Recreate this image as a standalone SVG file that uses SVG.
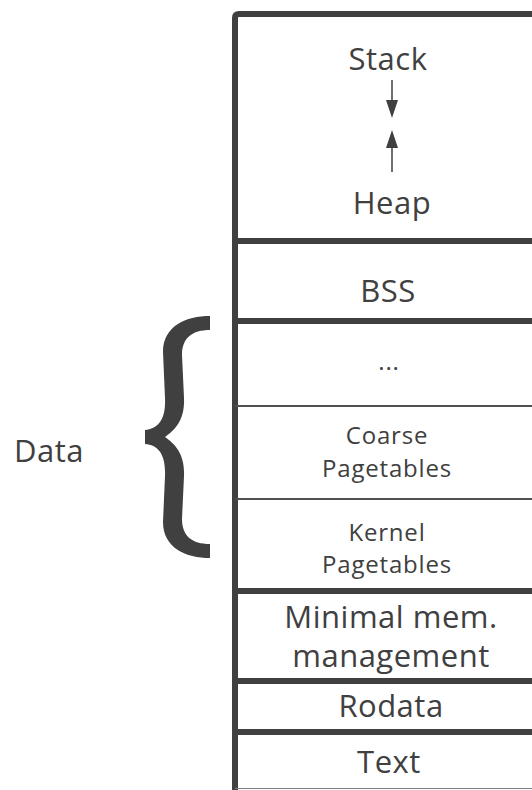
<svg xmlns="http://www.w3.org/2000/svg" width="532" height="790" viewBox="0 0 532 790">
<defs>
<style>
.t{font-family:"Open Sans","Noto Sans","DejaVu Sans",sans-serif;fill:#404040;text-anchor:middle}
.b{font-size:31px;letter-spacing:0.5px}
.s{font-size:24px;letter-spacing:0.8px}
.thick{stroke:#404040;stroke-width:6;fill:none}
.thin{stroke:#505050;stroke-width:2;fill:none}
</style>
</defs>
<rect width="532" height="790" fill="#ffffff"/>
<g id="frame">
<path class="thick" d="M235,792 L235,18 Q235,14 239,14 L540,14"/>
<line class="thick" x1="235" y1="241" x2="540" y2="241"/>
<line class="thick" x1="235" y1="321" x2="540" y2="321"/>
<line class="thin" x1="235" y1="406" x2="540" y2="406"/>
<line class="thin" x1="235" y1="499" x2="540" y2="499"/>
<line class="thick" x1="235" y1="591" x2="540" y2="591"/>
<line class="thick" x1="235" y1="681" x2="540" y2="681"/>
<line class="thick" x1="235" y1="732" x2="540" y2="732"/>
<line x1="235" y1="788.5" x2="540" y2="788.5" stroke="#808080" stroke-width="1"/>
</g>
<g id="stackheap">
<text class="t b" x="388" y="70">Stack</text>
<text class="t b" x="392" y="214">Heap</text>
</g>
<g id="connectors">
<line x1="392" y1="80" x2="392" y2="100" stroke="#404040" stroke-width="1.5"/>
<path d="M386,100 L398,100 L392,118 Z" fill="#404040"/>
<line x1="392" y1="172" x2="392" y2="148" stroke="#404040" stroke-width="1.5"/>
<path d="M386,148 L398,148 L392,130 Z" fill="#404040"/>
</g>
<g id="bss"><text class="t b" x="388" y="302">BSS</text></g>
<g id="dots"><text class="t s" x="389" y="370">...</text></g>
<g id="coarse"><text class="t s" x="387" y="444">Coarse</text><text class="t s" x="387" y="477">Pagetables</text></g>
<g id="kernel"><text class="t s" x="387" y="541">Kernel</text><text class="t s" x="387" y="573">Pagetables</text></g>
<g id="minimal"><text class="t b" x="391" y="628">Minimal mem.</text><text class="t b" x="391" y="667">management</text></g>
<g id="rodata"><text class="t b" x="391" y="717">Rodata</text></g>
<g id="textseg"><text class="t b" x="389" y="773">Text</text></g>
<g id="data">
<text class="t b" x="49" y="462">Data</text>
<path fill="#404040" d="M210,316 C186,316 163,326 163,352 L165,398 C166,420 158,429 145,430 L145,444 C158,445 166,454 165,476 L163,522 C163,548 186,558 210,558 L210,544 C192,544 182,536 182,519 L184,476 C185,454 175,444 165,437 C175,430 185,420 184,398 L182,355 C182,338 192,330 210,330 Z"/>
</g>
</svg>
